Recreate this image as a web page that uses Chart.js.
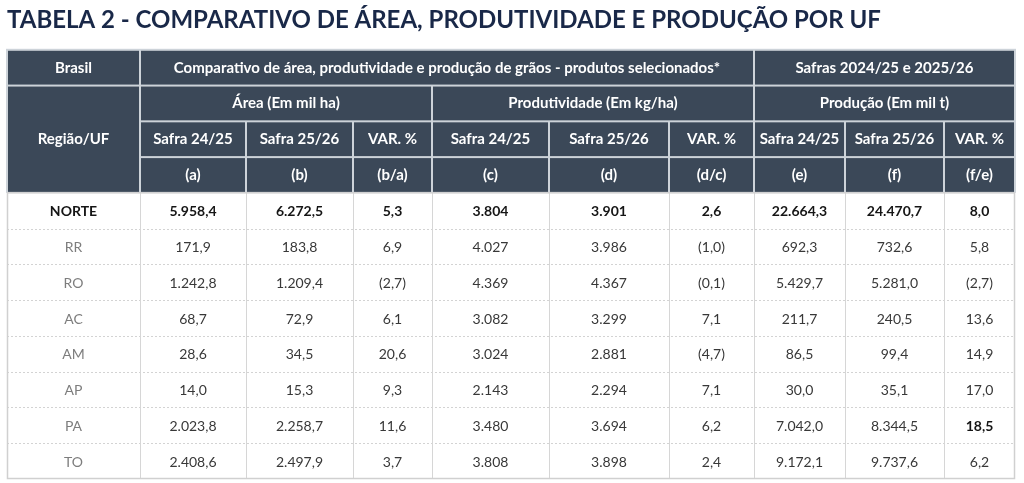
<!DOCTYPE html>
<html>
<head>
<meta charset="utf-8">
<script src="https://cdn.jsdelivr.net/npm/chart.js@4.4.1/dist/chart.umd.min.js"></script>
<style>
  html, body { margin: 0; padding: 0; background: #fff; }
  #wrap { width: 1024px; height: 483px; }
</style>
</head>
<body>
<div id="wrap"><canvas id="tabela"></canvas></div>
<script>
// --- Data ---
const regions = ['NORTE', 'RR', 'RO', 'AC', 'AM', 'AP', 'PA', 'TO'];
const area2425 = [5958.4, 171.9, 1242.8, 68.7, 28.6, 14.0, 2023.8, 2408.6];
const area2526 = [6272.5, 183.8, 1209.4, 72.9, 34.5, 15.3, 2258.7, 2497.9];
const areaVar = [5.3, 6.9, -2.7, 6.1, 20.6, 9.3, 11.6, 3.7];
const prodt2425 = [3804, 4027, 4369, 3082, 3024, 2143, 3480, 3808];
const prodt2526 = [3901, 3986, 4367, 3299, 2881, 2294, 3694, 3898];
const prodtVar = [2.6, -1.0, -0.1, 7.1, -4.7, 7.1, 6.2, 2.4];
const prod2425 = [22664.3, 692.3, 5429.7, 211.7, 86.5, 30.0, 7042.0, 9172.1];
const prod2526 = [24470.7, 732.6, 5281.0, 240.5, 99.4, 35.1, 8344.5, 9737.6];
const prodVar = [8.0, 5.8, -2.7, 13.6, 14.9, 17.0, 18.5, 6.2];

const groupLabels = ['Área (Em mil ha)', 'Produtividade (Em kg/ha)', 'Produção (Em mil t)'];
const subLabels = ['Safra 24/25', 'Safra 25/26', 'VAR. %'];
const letterLabels = ['(a)', '(b)', '(b/a)', '(c)', '(d)', '(d/c)', '(e)', '(f)', '(f/e)'];

// --- Layout (table units) ---
const colEdges = [0, 133, 239, 346, 425, 542, 662, 747, 838, 937, 1008];
const HEADER_ROWS = 4;
const HEAD_BG = '#3b4858';
const HEAD_LINE = '#cdd3d9';

// format like 5.958,4 / (2,7)
function fmt(v, dec) {
    const neg = v < 0;
    let s = Math.abs(v).toFixed(dec);
    let [ip, fp] = s.split('.');
    ip = ip.replace(/\B(?=(\d{3})+(?!\d))/g, '.');
    s = fp !== undefined ? ip + ',' + fp : ip;
    return neg ? '(' + s + ')' : s;
}

const columns = [
    regions.map(r => r),
    area2425.map(v => fmt(v, 1)),
    area2526.map(v => fmt(v, 1)),
    areaVar.map(v => fmt(v, 1)),
    prodt2425.map(v => fmt(v, 0)),
    prodt2526.map(v => fmt(v, 0)),
    prodtVar.map(v => fmt(v, 1)),
    prod2425.map(v => fmt(v, 1)),
    prod2526.map(v => fmt(v, 1)),
    prodVar.map(v => fmt(v, 1))
];

// one dataset per column, one point per cell centre
const datasets = columns.map((vals, c) => ({
    label: 'col' + c,
    data: vals.map((txt, r) => ({ x: (colEdges[c] + colEdges[c + 1]) / 2, y: HEADER_ROWS + r + 0.5, txt: txt })),
    pointRadius: 0,
    showLine: false
}));

const tablePlugin = {
    id: 'tablePlugin',
    beforeDatasetsDraw(chart) {
        const { ctx, scales: { x, y } } = chart;
        const px = v => x.getPixelForValue(v);
        const py = v => y.getPixelForValue(v);
        const L = px(0), R = px(1008), T = py(0), H = py(HEADER_ROWS), B = py(HEADER_ROWS + regions.length);

        ctx.save();
        // header background / lines
        ctx.fillStyle = HEAD_LINE;
        ctx.fillRect(L - 1, T - 1, R - L + 2, H - T + 1);
        function headCell(c0, c1, r0, r1, text) {
            const x0 = px(colEdges[c0]), x1 = px(colEdges[c1]);
            const y0 = py(r0), y1 = py(r1);
            ctx.fillStyle = HEAD_BG;
            ctx.fillRect(x0 + 1, y0 + 1, x1 - x0 - 2, y1 - y0 - 2);
            ctx.fillStyle = '#ffffff';
            ctx.font = 'bold 15px Lato';
            ctx.textAlign = 'center';
            ctx.textBaseline = 'middle';
            ctx.fillText(text, (x0 + x1) / 2, (y0 + y1) / 2);
        }
        headCell(0, 1, 0, 1, 'Brasil');
        headCell(1, 7, 0, 1, 'Comparativo de área, produtividade e produção de grãos - produtos selecionados*');
        headCell(7, 10, 0, 1, 'Safras 2024/25 e 2025/26');
        headCell(0, 1, 1, 4, 'Região/UF');
        groupLabels.forEach((g, i) => headCell(1 + i * 3, 4 + i * 3, 1, 2, g));
        for (let c = 1; c < 10; c++) {
            headCell(c, c + 1, 2, 3, subLabels[(c - 1) % 3]);
            headCell(c, c + 1, 3, 4, letterLabels[c - 1]);
        }

        // body
        ctx.fillStyle = '#ffffff';
        ctx.fillRect(L, H, R - L, B - H);
        ctx.strokeStyle = '#d3d3d3';
        ctx.lineWidth = 1;
        ctx.setLineDash([2, 2]);
        for (let r = 1; r < regions.length; r++) {
            const yy = Math.round(py(HEADER_ROWS + r)) + 0.5;
            ctx.beginPath();
            ctx.moveTo(L, yy);
            ctx.lineTo(R, yy);
            ctx.stroke();
        }
        ctx.setLineDash([]);
        ctx.strokeStyle = '#d6d6d6';
        for (let c = 1; c < colEdges.length - 1; c++) {
            const xx = Math.round(px(colEdges[c])) + 0.5;
            ctx.beginPath();
            ctx.moveTo(xx, H);
            ctx.lineTo(xx, B);
            ctx.stroke();
        }
        ctx.strokeStyle = '#d0d0d0';
        ctx.lineWidth = 1.5;
        ctx.strokeRect(L + 0.5, H, R - L - 1, B - H - 0.5);
        ctx.restore();
    },
    afterDatasetsDraw(chart) {
        const { ctx } = chart;
        ctx.save();
        ctx.textAlign = 'center';
        ctx.textBaseline = 'middle';
        chart.data.datasets.forEach((ds, c) => {
            const meta = chart.getDatasetMeta(c);
            meta.data.forEach((pt, r) => {
                let font = '14px Lato', color = '#383838';
                if (c === 0) color = '#7d7d7d';
                if (r === 0) { font = 'bold 14px Lato'; color = '#151515'; }
                if (c === 9 && regions[r] === 'PA') { font = 'bold 14px Lato'; color = '#151515'; }
                ctx.font = font;
                ctx.fillStyle = color;
                ctx.fillText(ds.data[r].txt, pt.x, pt.y + 1);
            });
        });
        ctx.restore();
    }
};

new Chart(document.getElementById('tabela').getContext('2d'), {
    type: 'scatter',
    data: { datasets: datasets },
    options: {
        responsive: true,
        maintainAspectRatio: false,
        animation: false,
        layout: { padding: { left: 7, right: 9, bottom: 4, top: 0 } },
        plugins: {
            legend: { display: false },
            tooltip: { enabled: false },
            title: {
                display: true,
                text: 'TABELA 2 - COMPARATIVO DE ÁREA, PRODUTIVIDADE E PRODUÇÃO POR UF',
                align: 'start',
                color: '#192848',
                font: { family: 'Lato', size: 24, weight: 'bold' },
                padding: { top: 6, bottom: 15 }
            }
        },
        scales: {
            x: { type: 'linear', min: 0, max: 1008, display: false },
            y: { type: 'linear', min: 0, max: HEADER_ROWS + regions.length, reverse: true, display: false }
        }
    },
    plugins: [tablePlugin]
});
</script>
</body>
</html>
